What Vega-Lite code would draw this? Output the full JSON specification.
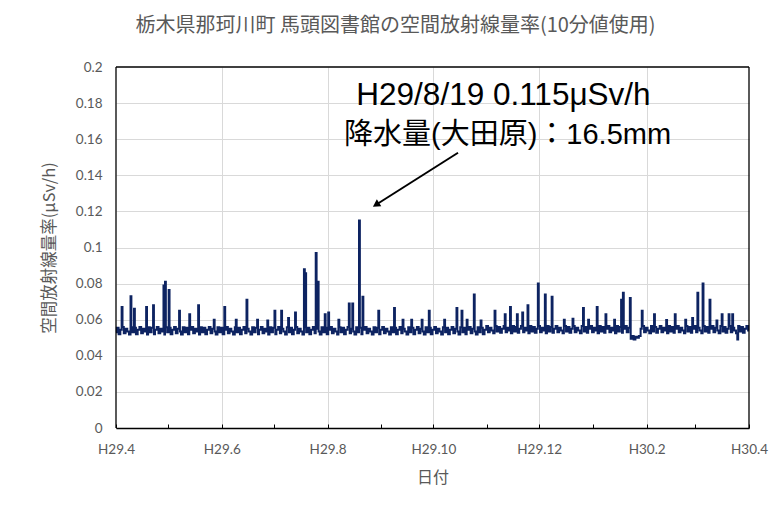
{
  "$schema": "https://vega.github.io/schema/vega-lite/v6.json",
  "width": 633,
  "height": 361,
  "autosize": {"type": "none"},
  "padding": {"left": 116, "top": 67, "right": 26, "bottom": 87},
  "background": "#ffffff",
  "config": {
    "view": {"stroke": null},
    "font": "Noto Sans CJK JP",
    "axis": {"labelOverlap": false},
    "axisY": {"labelOverlap": false}
  },
  "title": {
    "text": "栃木県那珂川町  馬頭図書館の空間放射線量率(10分値使用)",
    "fontSize": 20,
    "fontWeight": "normal",
    "color": "#595959",
    "font": "Noto Sans CJK JP",
    "anchor": "middle",
    "offset": 24,
    "dx": -37
  },
  "encoding": {
    "x": {
      "field": "t", "type": "temporal",
      "scale": {"type": "utc", "domain": [{"year": 2017, "month": 4, "date": 1, "utc": true}, {"year": 2018, "month": 4, "date": 1, "utc": true}]},
      "axis": {
        "title": "日付",
        "titleFont": "Noto Sans CJK JP",
        "titleFontSize": 16,
        "titleFontWeight": "normal",
        "titleColor": "#595959",
        "titlePadding": 14,
        "values": [
          {"year": 2017, "month": 4, "date": 1, "utc": true},
          {"year": 2017, "month": 5, "date": 1, "utc": true},
          {"year": 2017, "month": 6, "date": 1, "utc": true},
          {"year": 2017, "month": 7, "date": 1, "utc": true},
          {"year": 2017, "month": 8, "date": 1, "utc": true},
          {"year": 2017, "month": 9, "date": 1, "utc": true},
          {"year": 2017, "month": 10, "date": 1, "utc": true},
          {"year": 2017, "month": 11, "date": 1, "utc": true},
          {"year": 2017, "month": 12, "date": 1, "utc": true},
          {"year": 2018, "month": 1, "date": 1, "utc": true},
          {"year": 2018, "month": 2, "date": 1, "utc": true},
          {"year": 2018, "month": 3, "date": 1, "utc": true},
          {"year": 2018, "month": 4, "date": 1, "utc": true}
        ],
        "labelExpr": "utcmonth(datum.value) % 2 == 1 ? 'H' + (utcyear(datum.value) - 1988) + '.' + (utcmonth(datum.value) + 1) : ''",
        "labelFont": "Lato",
        "labelFontSize": 13.5,
        "labelColor": "#595959",
        "labelPadding": 18,
        "labelFlush": false,
        "labelOverlap": false,
        "domain": true,
        "domainColor": "#000000",
        "domainWidth": 1.5,
        "ticks": true,
        "tickColor": "#000000",
        "tickSize": -4,
        "tickWidth": 1,
        "grid": true,
        "gridColor": "#d9d9d9",
        "gridWidth": 1,
        "gridOpacity": {"condition": {"test": "utcmonth(datum.value) % 2 == 0 || datum.value <= 1491004800000 || datum.value >= 1522540800000", "value": 0}, "value": 1}
      }
    },
    "y": {
      "field": "v", "type": "quantitative",
      "scale": {"domain": [0, 0.2], "nice": false, "zero": true},
      "axis": {
        "title": "空間放射線量率(μSv/h)",
        "titleFont": "Noto Sans CJK JP",
        "titleFontSize": 16.5,
        "titleFontWeight": "normal",
        "titleColor": "#595959",
        "titlePadding": 18,
        "values": [0, 0.02, 0.04, 0.06, 0.08, 0.1, 0.12, 0.14, 0.16, 0.18, 0.2],
        "labelExpr": "format(datum.value, '.2~f')",
        "labelFont": "Lato",
        "labelFontSize": 13.5,
        "labelColor": "#595959",
        "labelPadding": 14,
        "labelFlush": false,
        "labelOverlap": false,
        "domain": false,
        "ticks": false,
        "grid": true,
        "gridColor": "#d9d9d9",
        "gridWidth": 1,
        "gridOpacity": {"condition": {"test": "datum.value >= 0.199 || datum.value <= 0.001", "value": 0}, "value": 1}
      }
    }
  },
  "layer": [
    {
      "data": {"values": [
        {"t":"2017-04-01","v":0.053},{"t":"2017-04-02","v":0.0555},{"t":"2017-04-03","v":0.052},{"t":"2017-04-04","v":0.0545},{"t":"2017-04-05","v":0.056},{"t":"2017-04-06","v":0.0525},{"t":"2017-04-07","v":0.055},{"t":"2017-04-08","v":0.0535},{"t":"2017-04-09","v":0.0518},{"t":"2017-04-10","v":0.0558},
        {"t":"2017-04-11","v":0.053},{"t":"2017-04-12","v":0.0555},{"t":"2017-04-13","v":0.052},{"t":"2017-04-14","v":0.0545},{"t":"2017-04-15","v":0.056},{"t":"2017-04-16","v":0.0525},{"t":"2017-04-17","v":0.055},{"t":"2017-04-18","v":0.0535},{"t":"2017-04-19","v":0.0518},{"t":"2017-04-20","v":0.0558},
        {"t":"2017-04-21","v":0.053},{"t":"2017-04-22","v":0.0555},{"t":"2017-04-23","v":0.052},{"t":"2017-04-24","v":0.0545},{"t":"2017-04-25","v":0.056},{"t":"2017-04-26","v":0.0525},{"t":"2017-04-27","v":0.055},{"t":"2017-04-28","v":0.0535},{"t":"2017-04-29","v":0.0518},{"t":"2017-04-30","v":0.0558},
        {"t":"2017-05-01","v":0.053},{"t":"2017-05-02","v":0.0555},{"t":"2017-05-03","v":0.052},{"t":"2017-05-04","v":0.0545},{"t":"2017-05-05","v":0.056},{"t":"2017-05-06","v":0.0525},{"t":"2017-05-07","v":0.055},{"t":"2017-05-08","v":0.0535},{"t":"2017-05-09","v":0.0518},{"t":"2017-05-10","v":0.0558},
        {"t":"2017-05-11","v":0.053},{"t":"2017-05-12","v":0.0555},{"t":"2017-05-13","v":0.052},{"t":"2017-05-14","v":0.0545},{"t":"2017-05-15","v":0.056},{"t":"2017-05-16","v":0.0525},{"t":"2017-05-17","v":0.055},{"t":"2017-05-18","v":0.0535},{"t":"2017-05-19","v":0.0518},{"t":"2017-05-20","v":0.0558},
        {"t":"2017-05-21","v":0.053},{"t":"2017-05-22","v":0.0555},{"t":"2017-05-23","v":0.052},{"t":"2017-05-24","v":0.0545},{"t":"2017-05-25","v":0.056},{"t":"2017-05-26","v":0.0525},{"t":"2017-05-27","v":0.055},{"t":"2017-05-28","v":0.0535},{"t":"2017-05-29","v":0.0518},{"t":"2017-05-30","v":0.0558},{"t":"2017-05-31","v":0.053},
        {"t":"2017-06-01","v":0.0555},{"t":"2017-06-02","v":0.052},{"t":"2017-06-03","v":0.0545},{"t":"2017-06-04","v":0.056},{"t":"2017-06-05","v":0.0525},{"t":"2017-06-06","v":0.055},{"t":"2017-06-07","v":0.0535},{"t":"2017-06-08","v":0.0518},{"t":"2017-06-09","v":0.0558},{"t":"2017-06-10","v":0.053},
        {"t":"2017-06-11","v":0.0555},{"t":"2017-06-12","v":0.052},{"t":"2017-06-13","v":0.0545},{"t":"2017-06-14","v":0.056},{"t":"2017-06-15","v":0.0525},{"t":"2017-06-16","v":0.055},{"t":"2017-06-17","v":0.0535},{"t":"2017-06-18","v":0.0518},{"t":"2017-06-19","v":0.0558},{"t":"2017-06-20","v":0.053},
        {"t":"2017-06-21","v":0.0555},{"t":"2017-06-22","v":0.052},{"t":"2017-06-23","v":0.0545},{"t":"2017-06-24","v":0.056},{"t":"2017-06-25","v":0.0525},{"t":"2017-06-26","v":0.055},{"t":"2017-06-27","v":0.0535},{"t":"2017-06-28","v":0.0518},{"t":"2017-06-29","v":0.0558},{"t":"2017-06-30","v":0.053},
        {"t":"2017-07-01","v":0.0555},{"t":"2017-07-02","v":0.052},{"t":"2017-07-03","v":0.0545},{"t":"2017-07-04","v":0.056},{"t":"2017-07-05","v":0.0525},{"t":"2017-07-06","v":0.055},{"t":"2017-07-07","v":0.0535},{"t":"2017-07-08","v":0.0518},{"t":"2017-07-09","v":0.0558},{"t":"2017-07-10","v":0.053},
        {"t":"2017-07-11","v":0.0555},{"t":"2017-07-12","v":0.052},{"t":"2017-07-13","v":0.0545},{"t":"2017-07-14","v":0.056},{"t":"2017-07-15","v":0.0525},{"t":"2017-07-16","v":0.055},{"t":"2017-07-17","v":0.0535},{"t":"2017-07-18","v":0.0518},{"t":"2017-07-19","v":0.0558},{"t":"2017-07-20","v":0.053},
        {"t":"2017-07-21","v":0.0555},{"t":"2017-07-22","v":0.052},{"t":"2017-07-23","v":0.0545},{"t":"2017-07-24","v":0.056},{"t":"2017-07-25","v":0.0525},{"t":"2017-07-26","v":0.055},{"t":"2017-07-27","v":0.0535},{"t":"2017-07-28","v":0.0518},{"t":"2017-07-29","v":0.0558},{"t":"2017-07-30","v":0.053},{"t":"2017-07-31","v":0.0555},
        {"t":"2017-08-01","v":0.052},{"t":"2017-08-02","v":0.0545},{"t":"2017-08-03","v":0.056},{"t":"2017-08-04","v":0.0525},{"t":"2017-08-05","v":0.055},{"t":"2017-08-06","v":0.0535},{"t":"2017-08-07","v":0.0518},{"t":"2017-08-08","v":0.0558},{"t":"2017-08-09","v":0.053},{"t":"2017-08-10","v":0.0555},
        {"t":"2017-08-11","v":0.052},{"t":"2017-08-12","v":0.0545},{"t":"2017-08-13","v":0.056},{"t":"2017-08-14","v":0.0525},{"t":"2017-08-15","v":0.055},{"t":"2017-08-16","v":0.0535},{"t":"2017-08-17","v":0.0518},{"t":"2017-08-18","v":0.0558},{"t":"2017-08-19","v":0.053},{"t":"2017-08-20","v":0.0555},
        {"t":"2017-08-21","v":0.052},{"t":"2017-08-22","v":0.0545},{"t":"2017-08-23","v":0.056},{"t":"2017-08-24","v":0.0525},{"t":"2017-08-25","v":0.055},{"t":"2017-08-26","v":0.0535},{"t":"2017-08-27","v":0.0518},{"t":"2017-08-28","v":0.0558},{"t":"2017-08-29","v":0.053},{"t":"2017-08-30","v":0.0555},{"t":"2017-08-31","v":0.052},
        {"t":"2017-09-01","v":0.0545},{"t":"2017-09-02","v":0.056},{"t":"2017-09-03","v":0.0525},{"t":"2017-09-04","v":0.055},{"t":"2017-09-05","v":0.0535},{"t":"2017-09-06","v":0.0518},{"t":"2017-09-07","v":0.0558},{"t":"2017-09-08","v":0.053},{"t":"2017-09-09","v":0.0555},{"t":"2017-09-10","v":0.052},
        {"t":"2017-09-11","v":0.0545},{"t":"2017-09-12","v":0.056},{"t":"2017-09-13","v":0.0525},{"t":"2017-09-14","v":0.055},{"t":"2017-09-15","v":0.0535},{"t":"2017-09-16","v":0.0518},{"t":"2017-09-17","v":0.0558},{"t":"2017-09-18","v":0.053},{"t":"2017-09-19","v":0.0555},{"t":"2017-09-20","v":0.052},
        {"t":"2017-09-21","v":0.0545},{"t":"2017-09-22","v":0.056},{"t":"2017-09-23","v":0.0525},{"t":"2017-09-24","v":0.055},{"t":"2017-09-25","v":0.0535},{"t":"2017-09-26","v":0.0518},{"t":"2017-09-27","v":0.0558},{"t":"2017-09-28","v":0.053},{"t":"2017-09-29","v":0.0555},{"t":"2017-09-30","v":0.052},
        {"t":"2017-10-01","v":0.0545},{"t":"2017-10-02","v":0.056},{"t":"2017-10-03","v":0.0525},{"t":"2017-10-04","v":0.055},{"t":"2017-10-05","v":0.0535},{"t":"2017-10-06","v":0.0518},{"t":"2017-10-07","v":0.0558},{"t":"2017-10-08","v":0.053},{"t":"2017-10-09","v":0.0555},{"t":"2017-10-10","v":0.052},
        {"t":"2017-10-11","v":0.0545},{"t":"2017-10-12","v":0.056},{"t":"2017-10-13","v":0.0525},{"t":"2017-10-14","v":0.055},{"t":"2017-10-15","v":0.0535},{"t":"2017-10-16","v":0.0518},{"t":"2017-10-17","v":0.0558},{"t":"2017-10-18","v":0.053},{"t":"2017-10-19","v":0.0555},{"t":"2017-10-20","v":0.052},
        {"t":"2017-10-21","v":0.0545},{"t":"2017-10-22","v":0.056},{"t":"2017-10-23","v":0.0525},{"t":"2017-10-24","v":0.055},{"t":"2017-10-25","v":0.0535},{"t":"2017-10-26","v":0.0518},{"t":"2017-10-27","v":0.0558},{"t":"2017-10-28","v":0.053},{"t":"2017-10-29","v":0.0555},{"t":"2017-10-30","v":0.052},{"t":"2017-10-31","v":0.0545},
        {"t":"2017-11-01","v":0.0565},{"t":"2017-11-02","v":0.053},{"t":"2017-11-03","v":0.0555},{"t":"2017-11-04","v":0.054},{"t":"2017-11-05","v":0.0525},{"t":"2017-11-06","v":0.0565},{"t":"2017-11-07","v":0.0535},{"t":"2017-11-08","v":0.056},{"t":"2017-11-09","v":0.0528},{"t":"2017-11-10","v":0.055},
        {"t":"2017-11-11","v":0.0565},{"t":"2017-11-12","v":0.053},{"t":"2017-11-13","v":0.0555},{"t":"2017-11-14","v":0.054},{"t":"2017-11-15","v":0.0525},{"t":"2017-11-16","v":0.0565},{"t":"2017-11-17","v":0.0535},{"t":"2017-11-18","v":0.056},{"t":"2017-11-19","v":0.0528},{"t":"2017-11-20","v":0.055},
        {"t":"2017-11-21","v":0.0565},{"t":"2017-11-22","v":0.053},{"t":"2017-11-23","v":0.0555},{"t":"2017-11-24","v":0.054},{"t":"2017-11-25","v":0.0525},{"t":"2017-11-26","v":0.0565},{"t":"2017-11-27","v":0.0535},{"t":"2017-11-28","v":0.056},{"t":"2017-11-29","v":0.0528},{"t":"2017-11-30","v":0.055},
        {"t":"2017-12-01","v":0.0565},{"t":"2017-12-02","v":0.053},{"t":"2017-12-03","v":0.0555},{"t":"2017-12-04","v":0.054},{"t":"2017-12-05","v":0.0525},{"t":"2017-12-06","v":0.0565},{"t":"2017-12-07","v":0.0535},{"t":"2017-12-08","v":0.056},{"t":"2017-12-09","v":0.0528},{"t":"2017-12-10","v":0.055},
        {"t":"2017-12-11","v":0.0565},{"t":"2017-12-12","v":0.053},{"t":"2017-12-13","v":0.0555},{"t":"2017-12-14","v":0.054},{"t":"2017-12-15","v":0.0525},{"t":"2017-12-16","v":0.0565},{"t":"2017-12-17","v":0.0535},{"t":"2017-12-18","v":0.056},{"t":"2017-12-19","v":0.0528},{"t":"2017-12-20","v":0.055},
        {"t":"2017-12-21","v":0.0565},{"t":"2017-12-22","v":0.053},{"t":"2017-12-23","v":0.0555},{"t":"2017-12-24","v":0.054},{"t":"2017-12-25","v":0.0525},{"t":"2017-12-26","v":0.0565},{"t":"2017-12-27","v":0.0535},{"t":"2017-12-28","v":0.056},{"t":"2017-12-29","v":0.0528},{"t":"2017-12-30","v":0.055},{"t":"2017-12-31","v":0.0565},
        {"t":"2018-01-01","v":0.053},{"t":"2018-01-02","v":0.0555},{"t":"2018-01-03","v":0.054},{"t":"2018-01-04","v":0.0525},{"t":"2018-01-05","v":0.0565},{"t":"2018-01-06","v":0.0535},{"t":"2018-01-07","v":0.056},{"t":"2018-01-08","v":0.0528},{"t":"2018-01-09","v":0.055},{"t":"2018-01-10","v":0.0565},
        {"t":"2018-01-11","v":0.053},{"t":"2018-01-12","v":0.0555},{"t":"2018-01-13","v":0.054},{"t":"2018-01-14","v":0.0525},{"t":"2018-01-15","v":0.0565},{"t":"2018-01-16","v":0.0535},{"t":"2018-01-17","v":0.056},{"t":"2018-01-18","v":0.0528},{"t":"2018-01-19","v":0.055},{"t":"2018-01-20","v":0.0565},
        {"t":"2018-01-21","v":0.053},{"t":"2018-01-22","v":0.0555},{"t":"2018-01-23","v":0.0495},{"t":"2018-01-24","v":0.051},{"t":"2018-01-25","v":0.049},{"t":"2018-01-26","v":0.0505},{"t":"2018-01-27","v":0.05},{"t":"2018-01-28","v":0.051},{"t":"2018-01-29","v":0.055},{"t":"2018-01-30","v":0.0565},{"t":"2018-01-31","v":0.053},
        {"t":"2018-02-01","v":0.0555},{"t":"2018-02-02","v":0.054},{"t":"2018-02-03","v":0.0525},{"t":"2018-02-04","v":0.0565},{"t":"2018-02-05","v":0.0535},{"t":"2018-02-06","v":0.056},{"t":"2018-02-07","v":0.0528},{"t":"2018-02-08","v":0.055},{"t":"2018-02-09","v":0.0565},{"t":"2018-02-10","v":0.053},
        {"t":"2018-02-11","v":0.0555},{"t":"2018-02-12","v":0.054},{"t":"2018-02-13","v":0.0525},{"t":"2018-02-14","v":0.0565},{"t":"2018-02-15","v":0.0535},{"t":"2018-02-16","v":0.056},{"t":"2018-02-17","v":0.0528},{"t":"2018-02-18","v":0.055},{"t":"2018-02-19","v":0.0565},{"t":"2018-02-20","v":0.053},
        {"t":"2018-02-21","v":0.0555},{"t":"2018-02-22","v":0.054},{"t":"2018-02-23","v":0.0525},{"t":"2018-02-24","v":0.0565},{"t":"2018-02-25","v":0.0535},{"t":"2018-02-26","v":0.056},{"t":"2018-02-27","v":0.0528},{"t":"2018-02-28","v":0.055},
        {"t":"2018-03-01","v":0.0565},{"t":"2018-03-02","v":0.053},{"t":"2018-03-03","v":0.0555},{"t":"2018-03-04","v":0.054},{"t":"2018-03-05","v":0.0525},{"t":"2018-03-06","v":0.0565},{"t":"2018-03-07","v":0.0535},{"t":"2018-03-08","v":0.056},{"t":"2018-03-09","v":0.0528},{"t":"2018-03-10","v":0.055},
        {"t":"2018-03-11","v":0.0565},{"t":"2018-03-12","v":0.053},{"t":"2018-03-13","v":0.0555},{"t":"2018-03-14","v":0.054},{"t":"2018-03-15","v":0.0525},{"t":"2018-03-16","v":0.0565},{"t":"2018-03-17","v":0.0535},{"t":"2018-03-18","v":0.056},{"t":"2018-03-19","v":0.0528},{"t":"2018-03-20","v":0.055},
        {"t":"2018-03-21","v":0.0565},{"t":"2018-03-22","v":0.053},{"t":"2018-03-23","v":0.0555},{"t":"2018-03-24","v":0.054},{"t":"2018-03-25","v":0.0525},{"t":"2018-03-26","v":0.0565},{"t":"2018-03-27","v":0.0535},{"t":"2018-03-28","v":0.056},{"t":"2018-03-29","v":0.0528},{"t":"2018-03-30","v":0.055},{"t":"2018-03-31","v":0.0565},
        {"t":"2018-04-01","v":0.054},
        {"t":"2017-04-04T12:00Z","v":0.067},{"t":"2017-04-09T18:00Z","v":0.073},{"t":"2017-04-11T18:00Z","v":0.066},{"t":"2017-04-18T18:00Z","v":0.067},{"t":"2017-04-22T18:00Z","v":0.068},
        {"t":"2017-04-28T18:00Z","v":0.079},{"t":"2017-04-29T12:00Z","v":0.081},{"t":"2017-05-01T18:00Z","v":0.0765},{"t":"2017-05-07T18:00Z","v":0.065},{"t":"2017-05-13T12:00Z","v":0.063},
        {"t":"2017-05-18T18:00Z","v":0.068},{"t":"2017-05-27T18:00Z","v":0.06},{"t":"2017-06-02T22:00Z","v":0.067},{"t":"2017-06-09T04:00Z","v":0.06},{"t":"2017-06-15T12:00Z","v":0.071},
        {"t":"2017-06-21T18:00Z","v":0.06},{"t":"2017-06-27T12:00Z","v":0.0595},{"t":"2017-07-01T18:00Z","v":0.065},{"t":"2017-07-05T12:00Z","v":0.065},{"t":"2017-07-09T12:00Z","v":0.061},
        {"t":"2017-07-13T12:00Z","v":0.064},{"t":"2017-07-18T18:00Z","v":0.088},{"t":"2017-07-19T06:00Z","v":0.0857},{"t":"2017-07-25T08:00Z","v":0.097},{"t":"2017-07-26T16:00Z","v":0.081},
        {"t":"2017-07-30T18:00Z","v":0.063},{"t":"2017-08-01T18:00Z","v":0.064},{"t":"2017-08-07T12:00Z","v":0.06},{"t":"2017-08-13T12:00Z","v":0.069},{"t":"2017-08-15T12:00Z","v":0.069},
        {"t":"2017-08-19T06:00Z","v":0.115},{"t":"2017-08-21T06:00Z","v":0.0727},{"t":"2017-08-30T12:00Z","v":0.065},{"t":"2017-09-08T16:00Z","v":0.0665},{"t":"2017-09-13T12:00Z","v":0.06},
        {"t":"2017-09-18T12:00Z","v":0.06},{"t":"2017-09-24T12:00Z","v":0.06},{"t":"2017-09-28T18:00Z","v":0.065},{"t":"2017-10-07T12:00Z","v":0.06},{"t":"2017-10-14T16:00Z","v":0.0665},
        {"t":"2017-10-17T12:00Z","v":0.065},{"t":"2017-10-20T10:00Z","v":0.06},{"t":"2017-10-24T16:00Z","v":0.074},{"t":"2017-10-28T12:00Z","v":0.0595},{"t":"2017-11-05T14:00Z","v":0.065},
        {"t":"2017-11-11T08:00Z","v":0.063},{"t":"2017-11-14T10:00Z","v":0.067},{"t":"2017-11-18T08:00Z","v":0.063},{"t":"2017-11-21T12:00Z","v":0.064},{"t":"2017-11-24T14:00Z","v":0.068},
        {"t":"2017-11-30T12:00Z","v":0.08},{"t":"2017-12-04T14:00Z","v":0.074},{"t":"2017-12-08T10:00Z","v":0.0727},{"t":"2017-12-15T12:00Z","v":0.06},{"t":"2017-12-20T12:00Z","v":0.0605},
        {"t":"2017-12-26T14:00Z","v":0.0665},{"t":"2017-12-29T12:00Z","v":0.06},{"t":"2018-01-03T10:00Z","v":0.067},{"t":"2018-01-08T12:00Z","v":0.063},{"t":"2018-01-13T12:00Z","v":0.06},
        {"t":"2018-01-17T12:00Z","v":0.071},{"t":"2018-01-18T14:00Z","v":0.075},{"t":"2018-01-22T14:00Z","v":0.072},{"t":"2018-01-29T08:00Z","v":0.065},{"t":"2018-02-05T12:00Z","v":0.063},
        {"t":"2018-02-12T12:00Z","v":0.0598},{"t":"2018-02-17T10:00Z","v":0.063},{"t":"2018-02-23T12:00Z","v":0.06},{"t":"2018-02-27T12:00Z","v":0.061},{"t":"2018-03-02T12:00Z","v":0.075},
        {"t":"2018-03-05T12:00Z","v":0.08},{"t":"2018-03-09T12:00Z","v":0.071},{"t":"2018-03-13T12:00Z","v":0.0595},{"t":"2018-03-16T12:00Z","v":0.063},{"t":"2018-03-20T12:00Z","v":0.063},
        {"t":"2018-03-22T16:00Z","v":0.063},{"t":"2018-03-25T12:00Z","v":0.049}
      ]},
      "mark": {"type": "line", "color": "#0d2361", "strokeWidth": 2, "interpolate": "step"}
    },
    {
      "data": {"values": [
        {"t": "2017-04-01", "v": 0, "t2": "2017-04-01", "v2": 0.2},
        {"t": "2018-04-01", "v": 0, "t2": "2018-04-01", "v2": 0.2},
        {"t": "2017-04-01", "v": 0.2, "t2": "2018-04-01", "v2": 0.2}
      ]},
      "mark": {"type": "rule", "color": "#000000", "strokeWidth": 1.3},
      "encoding": {
        "x2": {"field": "t2"},
        "y2": {"field": "v2"}
      }
    },
    {
      "data": {"values": [{"t": "2017-10-15T05:00Z", "v": 0.1525, "t2": "2017-08-28T22:00Z", "v2": 0.1237}]},
      "mark": {"type": "rule", "color": "#000000", "strokeWidth": 2},
      "encoding": {
        "x2": {"field": "t2"},
        "y2": {"field": "v2"}
      }
    },
    {
      "data": {"values": [{"t": "2017-08-28T22:00Z", "v": 0.1237}]},
      "mark": {"type": "point", "shape": "triangle-up", "filled": true, "color": "#000000", "size": 70, "angle": 238, "opacity": 1}
    },
    {
      "data": {"values": [
        {"t": "2017-11-10T10:00Z", "v": 0.1841, "label": "H29/8/19 0.115μSv/h"}
      ]},
      "mark": {"type": "text", "font": "Liberation Sans, Noto Sans CJK JP", "fontSize": 31.5, "color": "#000000", "align": "center", "baseline": "middle"},
      "encoding": {"text": {"field": "label"}}
    },
    {
      "data": {"values": [
        {"t": "2017-11-12T19:00Z", "v": 0.1625, "label": "降水量(大田原)：16.5mm"}
      ]},
      "mark": {"type": "text", "font": "Liberation Sans, Noto Sans CJK JP", "fontSize": 29, "color": "#000000", "align": "center", "baseline": "middle"},
      "encoding": {"text": {"field": "label"}}
    }
  ]
}
